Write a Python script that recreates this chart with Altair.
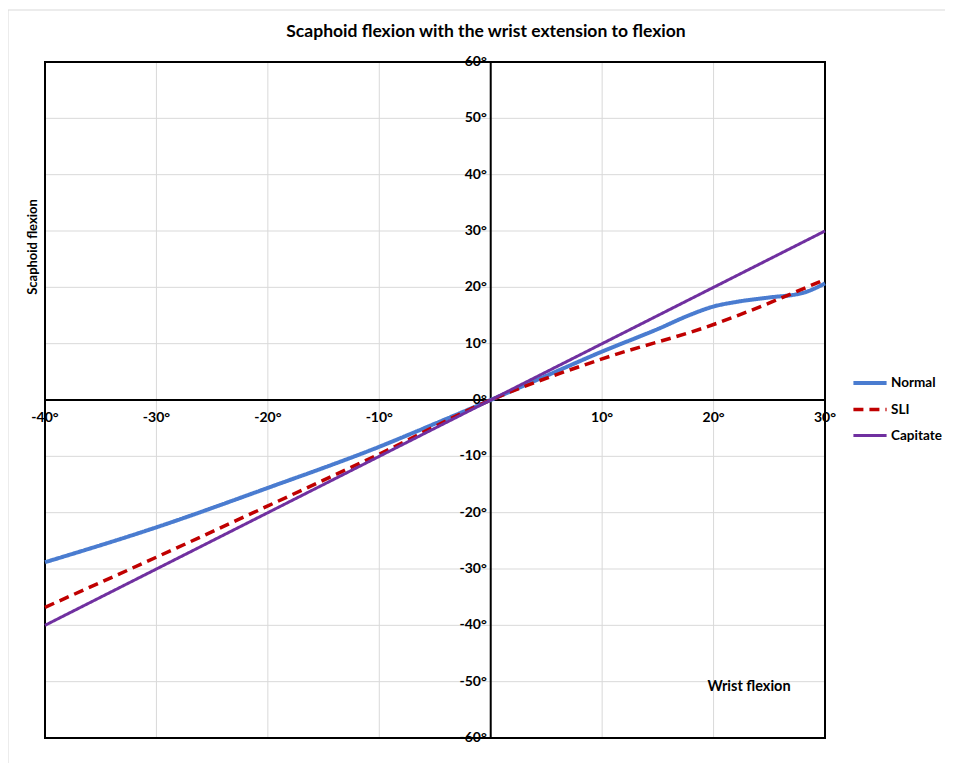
import altair as alt
import pandas as pd

# ---- data ----
series = ["Normal", "SLI", "Capitate"]
colors = ["#4A7CD0", "#C00000", "#7030A0"]
dashes = [[1, 0], [10, 6], [1, 0]]
widths = [4, 3, 2.5]

x_normal = [-40, -30, -20, -10, -5, 0, 5, 10, 15, 18, 20, 22, 25, 28, 30]
y_normal = [-28.8, -22.6, -15.6, -8.3, -4.2, 0, 4.3, 8.6, 12.6, 15.2, 16.6, 17.4, 18.2, 19.0, 20.7]
x_sli = [-40, -30, -20, -10, 0, 10, 20, 30]
y_sli = [-36.8, -27.9, -18.8, -9.6, 0, 7.3, 13.4, 21.4]
x_cap = [-40, 30]
y_cap = [-40, 30]

x_ticks = [-40, -30, -20, -10, 0, 10, 20, 30]
y_ticks = [-60, -50, -40, -30, -20, -10, 0, 10, 20, 30, 40, 50, 60]
x_labels = [-40, -30, -20, -10, 10, 20, 30]

title_text = "Scaphoid flexion with the wrist extension  to flexion"
x_title = "Wrist flexion"
y_title = "Scaphoid flexion"

rows = []
for name, xs, ys in [("Normal", x_normal, y_normal), ("SLI", x_sli, y_sli), ("Capitate", x_cap, y_cap)]:
    for a, b in zip(xs, ys):
        rows.append({"series": name, "x": a, "y": b})
df = pd.DataFrame(rows)

W, H = 780, 676
FONT = "Lato"

xscale = alt.Scale(domain=[-40, 30], nice=False, zero=False)
yscale = alt.Scale(domain=[-60, 60], nice=False, zero=False)
X = lambda f: alt.X(f, scale=xscale, axis=None)
Y = lambda f: alt.Y(f, scale=yscale, axis=None)

one = pd.DataFrame({"k": [0]})

frame = alt.Chart(one).mark_rect(fill=None, stroke="#d9d9d9", strokeWidth=1).encode(
    x=alt.value(-37), x2=alt.value(1000), y=alt.value(-52), y2=alt.value(1000)
)

grid_x = alt.Chart(pd.DataFrame({"x": x_ticks})).mark_rule(color="#d9d9d9", strokeWidth=1).encode(x=X("x:Q"))
grid_y = alt.Chart(pd.DataFrame({"y": y_ticks})).mark_rule(color="#d9d9d9", strokeWidth=1).encode(y=Y("y:Q"))

zero_x = alt.Chart(pd.DataFrame({"x": [0]})).mark_rule(color="black", strokeWidth=2).encode(x=X("x:Q"))
zero_y = alt.Chart(pd.DataFrame({"y": [0]})).mark_rule(color="black", strokeWidth=2).encode(y=Y("y:Q"))

border = alt.Chart(one).mark_rect(fill=None, stroke="black", strokeWidth=2).encode(
    x=alt.value(0), x2=alt.value(W), y=alt.value(0), y2=alt.value(H)
)

xlab_df = pd.DataFrame({"x": x_labels, "y": [0] * len(x_labels),
                        "t": [f"{v}°" for v in x_labels]})
xlabs = alt.Chart(xlab_df).mark_text(font=FONT, fontWeight="bold", fontSize=14, color="black",
                                     align="center", baseline="middle", dy=18).encode(
    x=X("x:Q"), y=Y("y:Q"), text="t:N")

ylab_df = pd.DataFrame({"y": y_ticks, "x": [0] * len(y_ticks),
                        "t": [f"{v}°" for v in y_ticks]})
ylabs = alt.Chart(ylab_df).mark_text(font=FONT, fontWeight="bold", fontSize=14, color="black",
                                     align="right", baseline="middle", dx=-4).encode(
    x=X("x:Q"), y=Y("y:Q"), text="t:N")

xt = alt.Chart(pd.DataFrame({"t": [x_title]})).mark_text(
    font=FONT, fontWeight="bold", fontSize=14.5, color="black", align="center", baseline="middle").encode(
    x=alt.value(704), y=alt.value(625), text="t:N")
yt = alt.Chart(pd.DataFrame({"t": [y_title]})).mark_text(
    font=FONT, fontWeight="bold", fontSize=13, color="black", align="center", baseline="middle",
    angle=270).encode(x=alt.value(-12), y=alt.value(185), text="t:N")
tt = alt.Chart(pd.DataFrame({"t": [title_text]})).mark_text(
    font=FONT, fontWeight="bold", fontSize=17.5, color="black", align="center", baseline="middle").encode(
    x=alt.value(441), y=alt.value(-30), text="t:N")

lines = alt.Chart(df).mark_line(interpolate="monotone").encode(
    x=X("x:Q"),
    y=Y("y:Q"),
    color=alt.Color("series:N", scale=alt.Scale(domain=series, range=colors),
                    legend=alt.Legend(title=None)),
    strokeDash=alt.StrokeDash("series:N", scale=alt.Scale(domain=series, range=dashes),
                              legend=alt.Legend(title=None)),
    strokeWidth=alt.StrokeWidth("series:N", scale=alt.Scale(domain=series, range=widths), legend=None),
)

chart = alt.layer(frame, grid_x, grid_y, zero_x, zero_y, border, lines,
                  xlabs, ylabs, xt, yt, tt).properties(
    width=W, height=H,
    autosize="none",
    padding={"left": 37, "top": 54, "right": 120, "bottom": 25},
).configure_view(stroke=None).configure_legend(
    orient="none", legendX=806, legendY=302,
    symbolType="stroke", symbolSize=1100, symbolStrokeWidth=3,
    labelFont=FONT, labelFontWeight="bold", labelFontSize=13.5, labelColor="black",
    rowPadding=0, labelOffset=2,
)

chart.save("out.html", embed_options={"renderer": "svg", "actions": False})
